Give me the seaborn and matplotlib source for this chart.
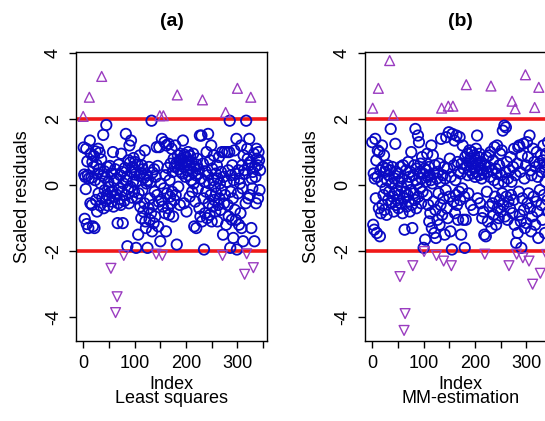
import numpy as np
import pandas as pd
import matplotlib
matplotlib.use("Agg")
import matplotlib.pyplot as plt
import seaborn as sns

# scaled residuals, index 0..344
ls_resid = [
    2.08, 1.14, 0.32, -1.02, 0.25, -0.12, 1.10, -1.18, 0.72, 0.30,
    -1.30, 0.20, 2.66, 1.35, -0.55, 0.95, 0.22, -0.60, 0.70, -1.25,
    0.55, 0.88, -1.30, 0.15, 1.02, -0.45, 0.62, -0.80, 0.35, 1.10,
    -0.25, 0.48, 0.98, -0.62, 0.05, 0.78, 3.29, -0.38, 0.28, 1.52,
    -0.70, 0.42, -0.15, 0.22, -0.48, 1.82, -0.30, 0.55, -0.62, 0.10,
    -0.05, -0.40, 0.58, -0.22, -2.52, 0.35, -0.50, -0.18, 1.00, -0.65,
    0.12, -0.35, 0.48, -3.86, -0.28, 0.20, -3.38, -1.15, -0.55, 0.62,
    -0.10, -0.42, 0.30, -0.60, 0.95, -0.20, 0.40, -1.15, 0.05, -2.13,
    -0.48, 0.52, -0.30, 1.55, 0.15, 0.25, -1.85, -0.12, 0.75, -0.55,
    1.20, 0.68, -0.05, 1.35, 0.40, -0.38, 0.55, 0.10, 0.82, -0.20,
    0.32, 0.70, 0.45, -1.90, 0.12, -0.40, 0.62, -1.50, -0.25, 0.28,
    0.90, -0.65, 0.35, -1.00, 0.60, -0.15, 0.48, -0.80, 0.22, -0.55,
    1.05, -1.10, -1.30, 0.05, 0.30, -1.90, 0.15, -0.70, 0.55, -1.05,
    -0.40, 0.10, -0.85, 1.95, -1.40, 0.38, -0.60, -1.15, 0.48, -0.20,
    -0.95, 0.25, -2.09, 1.15, -0.30, 0.58, -1.25, -0.50, 1.15, 2.10,
    -1.70, 0.05, -0.45, 1.40, -2.13, -0.65, 2.10, -0.10, 1.30, -0.85,
    0.30, -1.40, 1.20, -0.25, 0.52, -0.70, 1.25, -0.90, 0.15, -0.35,
    0.65, -0.55, 1.10, -0.20, 0.40, -0.95, 0.80, -0.45, 0.55, 1.20,
    -0.30, 0.65, -1.80, 2.73, 0.90, -0.05, 0.48, 0.75, -0.60, 0.95,
    0.40, 0.62, 0.80, 0.35, 1.35, 0.55, -0.55, 0.92, 0.68, 0.25,
    0.85, -0.80, 0.45, 0.72, 1.00, 0.30, 0.60, -0.35, 0.88, 0.50,
    0.15, 0.70, -0.20, 0.40, 0.95, 0.05, -1.25, 0.55, -0.50, 0.30,
    -1.30, 0.62, 0.80, -0.10, 0.35, 0.48, -0.70, 1.50, -0.95, 0.20,
    1.50, -1.10, 2.58, 0.65, -0.40, -1.95, 0.10, -0.85, 0.42, -0.20,
    1.00, -1.00, 0.30, 1.55, -0.55, 0.05, -0.90, 0.75, -0.30, 1.20,
    -1.10, 0.50, -0.65, 0.15, 0.90, -0.45, -0.05, -0.80, 0.35, -0.25,
    0.60, -1.10, 0.20, -0.60, 0.85, -0.40, 0.05, -0.75, 0.40, -0.15,
    1.00, -2.13, -1.50, 0.25, -0.55, 1.00, -0.30, 2.20, -1.20, 0.10,
    1.00, -0.60, 0.45, -0.95, 1.00, 1.95, -1.90, -0.20, 0.30, -1.05,
    0.60, -0.40, -1.60, 0.15, 1.05, -0.75, 0.35, -1.05, 1.40, -1.95,
    2.93, -0.25, 0.45, -1.20, 0.20, 0.05, -0.85, 1.20, -1.30, 0.60,
    -0.10, -1.70, 0.90, 0.45, -2.70, 0.35, -0.55, 1.95, -2.08, 1.10,
    0.80, -0.40, 0.60, 1.40, -0.30, 0.70, 2.66, -1.30, 0.20, -0.10,
    0.40, -2.50, 0.95, -1.70, 0.55, 0.25, -0.55, 1.10, 0.80, 0.60,
    -0.40, 1.00, 0.75, -0.15, 0.45,
]

mm_resid = [
    1.30, 2.33, -1.20, 0.35, -1.35, 0.20, 1.40, -0.40, 0.75, -1.45,
    0.25, 1.05, 2.93, -0.70, 1.00, -1.55, 0.45, -0.85, 0.10, 1.20,
    -0.60, 0.55, -0.30, 0.90, -0.75, 0.40, -0.10, 0.50, -0.90, 0.15,
    0.60, -0.45, 0.30, -0.20, 3.77, 0.45, 1.70, -0.55, 0.05, 0.55,
    -0.35, 2.12, -0.80, 0.20, -0.25, 1.25, -0.60, 0.40, -0.15, -0.45,
    0.35, -0.70, 0.10, -0.30, -2.77, 0.55, -0.55, -0.05, 0.20, -0.85,
    0.60, -0.40, -4.40, -1.35, -3.89, -0.20, 0.45, -0.65, 0.05, -0.30,
    0.70, -0.50, 0.25, -0.80, 0.40, -0.15, 1.00, -0.60, -1.30, -2.44,
    0.30, -0.25, 0.60, -0.45, 1.70, 0.15, -0.70, 0.50, 0.05, 1.50,
    -0.35, 1.30, 0.40, -0.10, 0.65, -0.55, 0.20, 0.85, -0.20, 0.35,
    -1.90, -2.01, 0.50, -1.65, 0.10, 0.45, -0.30, 0.95, 0.25, -0.60,
    0.55, -1.10, 0.30, -0.85, 0.15, 1.20, -1.30, 0.05, 0.90, -0.50,
    0.35, -1.45, 0.60, -0.75, -1.60, -2.13, 0.20, -1.05, 0.40, -0.25,
    0.65, -1.20, 0.10, -0.60, 1.40, 2.33, -0.90, 0.30, -0.40, -2.30,
    0.55, -1.50, 0.20, -0.15, 1.45, -0.70, 0.50, -1.00, 2.39, 1.60,
    -0.35, 0.80, -1.40, 0.25, -2.44, -1.95, 1.55, 2.39, -0.50, 0.60,
    1.35, -0.85, 0.15, -0.30, 1.50, -0.60, 0.70, -1.05, 0.40, -0.20,
    1.45, -0.45, 0.35, -1.50, 0.65, -0.10, 1.20, -1.05, 0.50, -0.35,
    -1.90, 0.85, -1.05, 3.04, 0.60, 0.95, 0.30, -0.25, 0.70, 1.05,
    0.45, 0.80, -0.60, 0.55, 1.00, 0.35, 0.65, -0.75, 0.90, 0.50,
    0.25, 0.75, 1.10, 0.40, 1.50, -0.40, 0.60, 0.85, 0.30, 0.95,
    -0.55, 0.50, 0.70, 0.20, -1.00, 0.45, -0.80, 0.35, -1.50, -2.09,
    0.60, -1.55, 0.85, -0.20, 0.40, -1.10, 0.55, 0.90, -0.65, 0.25,
    1.00, 3.00, -1.30, 0.45, -0.55, 0.75, -0.90, 0.15, 1.15, -0.35,
    0.50, -1.20, 0.35, 1.20, -0.70, 0.05, -1.00, 0.60, -0.45, 0.95,
    -0.80, 0.30, 1.05, -0.25, 1.65, -0.60, 0.10, 1.80, -0.95, 0.40,
    1.75, -0.35, 0.70, -1.05, 0.20, -0.50, -2.44, 0.45, -0.70, 0.85,
    -0.30, 0.10, 2.54, -0.85, 0.55, -0.45, 1.10, -1.20, 2.31, 0.30,
    -1.75, -2.09, 0.65, -1.45, 1.15, -0.20, 1.20, -0.90, 0.40, -1.10,
    -1.90, 0.90, -0.40, -2.20, 1.25, -0.75, 0.20, -1.30, 3.34, 0.60,
    -1.15, 1.30, -0.55, 0.85, -0.25, -2.30, 1.50, -0.70, 0.45, -1.40,
    0.30, -0.95, -3.00, 1.10, -0.35, 0.70, 2.35, -1.20, 0.55, -0.50,
    1.00, -0.80, 0.25, -1.60, 2.96, 0.65, -0.15, -2.67, 0.90, -0.60,
    0.40, -1.05, 0.75, 1.20, -0.30, 0.55, -1.45, 0.10, 0.95, -2.10,
    0.60, -0.45, 1.30, -0.80, 0.35,
]

panel_titles = ["(a)", "(b)"]
method_names = ["Least squares", "MM-estimation"]
cutoff = 2

sns.set_style("white")
plt.rcParams["font.family"] = ["Liberation Sans", "DejaVu Sans"]
plt.rcParams["text.color"] = "black"
plt.rcParams["axes.labelcolor"] = "black"
plt.rcParams["xtick.color"] = "black"
plt.rcParams["ytick.color"] = "black"

fig = plt.figure(figsize=(5.45, 4.21), dpi=100)
# second panel runs past the right edge, as in the cropped original
positions = [[0.1394, 0.190, 0.3505, 0.6865], [0.6697, 0.190, 0.3505, 0.6865]]

for pos, resid, title, method in zip(positions, [ls_resid, mm_resid], panel_titles, method_names):
    ax = fig.add_axes(pos)
    df = pd.DataFrame({"idx": np.arange(len(resid)), "r": resid})
    inside = df[df.r.abs() <= cutoff]
    high = df[df.r > cutoff]
    low = df[df.r < -cutoff]

    sns.scatterplot(data=inside, x="idx", y="r", ax=ax, marker="o", s=56,
                    facecolor="none", edgecolor="#0A0AC4", linewidth=1.3)
    sns.scatterplot(data=high, x="idx", y="r", ax=ax, marker="^", s=50,
                    facecolor="none", edgecolor="#9A3CC0", linewidth=1.0)
    sns.scatterplot(data=low, x="idx", y="r", ax=ax, marker="v", s=50,
                    facecolor="none", edgecolor="#9A3CC0", linewidth=1.0)
    ax.axhline(cutoff, color="#F01818", lw=2.6, zorder=0.5)
    ax.axhline(-cutoff, color="#F01818", lw=2.6, zorder=0.5)

    ax.set_xlim(-14, 357.5)
    ax.set_ylim(-4.72, 4.03)
    ax.set_xticks(range(0, 351, 50))
    ax.set_xticklabels([str(t) if t % 100 == 0 else "" for t in range(0, 351, 50)])
    ax.set_yticks([-4, -2, 0, 2, 4])
    ax.set_yticklabels(["-4", "-2", "0", "2", "4"], rotation=90, va="center")
    ax.tick_params(axis="both", direction="out", length=5, width=1, color="black",
                   labelsize=13, pad=5, left=True, bottom=True)
    for sp in ax.spines.values():
        sp.set_color("black")
        sp.set_linewidth(1)

    ax.set_xlabel("Index\n" + method, fontsize=13, linespacing=0.8, labelpad=3)
    ax.set_ylabel("Scaled residuals", fontsize=13, labelpad=10)
    ax.set_title(title, fontsize=14, fontweight="bold", pad=19)

fig.savefig("out.png", dpi=100)
